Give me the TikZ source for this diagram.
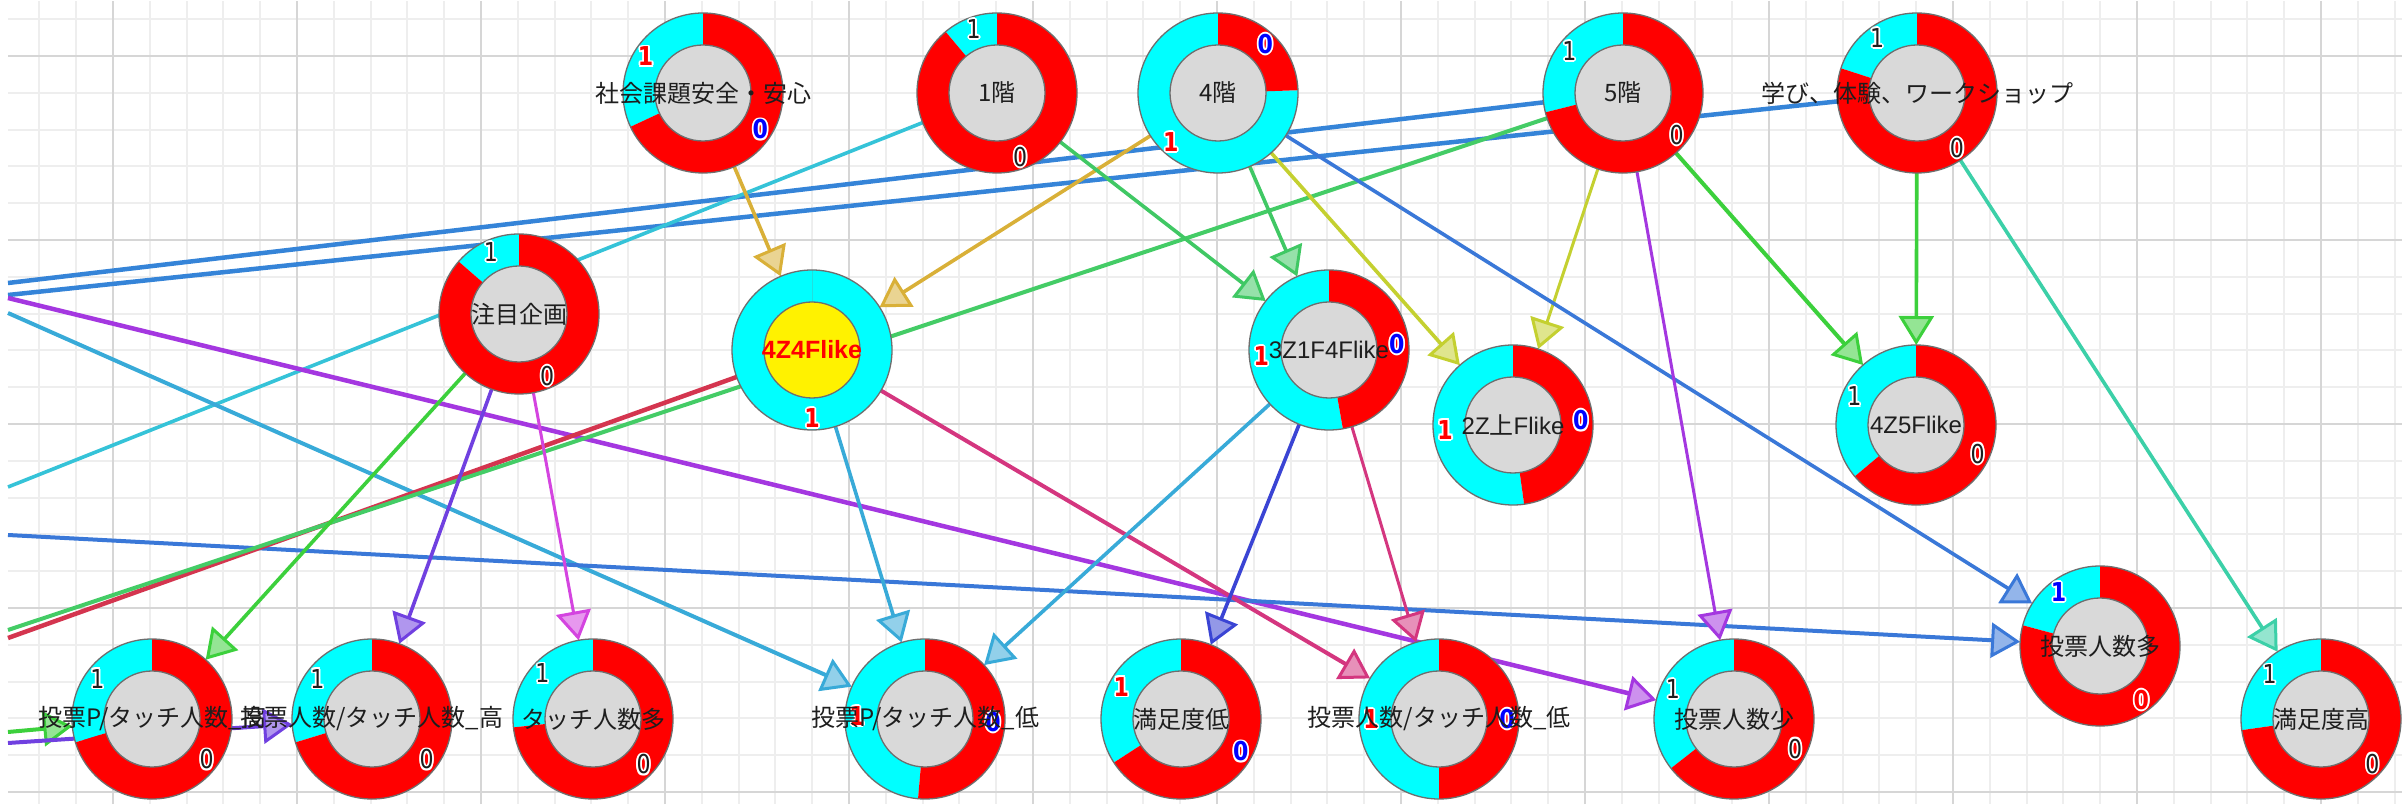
\documentclass[tikz,border=0pt]{standalone}
\usepackage{fontspec}
\setmainfont{Noto Sans CJK JP}
\newfontfamily\lat{Liberation Sans}
\newfontfamily\dvs[FakeStretch=0.85]{DejaVu Sans}
\usetikzlibrary{arrows.meta}
\definecolor{cyanc}{HTML}{00FFFF}
\definecolor{redc}{HTML}{FF0000}
\definecolor{rimc}{HTML}{6E6E6E}
\definecolor{innc}{HTML}{D9D9D9}
\definecolor{txtc}{HTML}{1E1E1E}
\definecolor{gridmin}{HTML}{EEEEEE}
\definecolor{gridmaj}{HTML}{D6D6D6}
\definecolor{cGold}{HTML}{D9B038}
\definecolor{cGrnA}{HTML}{40C864}
\definecolor{cYG}{HTML}{C4D030}
\definecolor{cBlue}{HTML}{3A78D8}
\definecolor{cGrnB}{HTML}{3CD03C}
\definecolor{cTeal}{HTML}{3CD0A8}
\definecolor{cPurp}{HTML}{A437E0}
\definecolor{cBlueB}{HTML}{3584D8}
\definecolor{cCyan}{HTML}{35C3D8}
\definecolor{cCB}{HTML}{38AAD8}
\definecolor{cRed}{HTML}{D4354F}
\definecolor{cGrnC}{HTML}{44CC66}
\definecolor{cPB}{HTML}{7040E0}
\definecolor{cMag}{HTML}{D444E0}
\definecolor{cPink}{HTML}{D4367F}
\definecolor{cNavy}{HTML}{3A44D4}
\definecolor{dblueC}{HTML}{0000FF}
\tikzset{
  hub/.style={circle, minimum size=160, inner sep=0, outer sep=0},
  arr/.style={-{Triangle[length=29pt,width=35pt,line width=3pt,fill=#1!55!white]}},
  ed/.style={draw=#1, line width=3.6, arr=#1},
  ln/.style={draw=#1, line width=3.6},
  rim/.style={draw=rimc, line width=1.3},
  lbl/.style={font=\fontsize{24}{24}\selectfont, text=txtc, inner sep=0},
  latlbl/.style={font=\lat\fontsize{24}{24}\selectfont, text=txtc, inner sep=0},
  dblack/.style={font=\dvs\fontsize{26}{26}\selectfont, text=txtc, inner sep=0},
  dred/.style={font=\dvs\bfseries\fontsize{26}{26}\selectfont, text=redc, inner sep=0},
  dblue/.style={font=\dvs\bfseries\fontsize{26}{26}\selectfont, text=dblueC, inner sep=0},
  minorline/.style={draw=gridmin, line width=2},
  majorline/.style={draw=gridmaj, line width=2.5},
}
\newcommand\ring[3]{%
  \fill[cyanc] (#1.center) -- ([shift={(90:80)}]#1.center) arc[start angle=90,end angle=#2,radius=80] -- cycle;
  \fill[redc] (#1.center) -- ([shift={(#2:80)}]#1.center) arc[start angle=#2,end angle=450,radius=80] -- cycle;
  \draw[rim] (#1.center) circle[radius=80];
  \filldraw[rim, fill=#3] (#1.center) circle[radius=48];
}
\newcommand\digit[4]{%
  \foreach \dx/\dy in {-1.8/0,1.8/0,0/-1.8,0/1.8,-1.3/-1.3,1.3/1.3,-1.3/1.3,1.3/-1.3}
    \node[#3, text=white, xshift=\dx, yshift=\dy] at ([shift={(#2:68)}]#1.center) {#4};
  \node[#3] at ([shift={(#2:68)}]#1.center) {#4};
}
\newcommand\ringlab[5]{% name, alpha, fill, style of 1, style of 0
  \ring{#1}{#2}{#3}%
  \pgfmathsetmacro\angA{(90+#2)/2}%
  \pgfmathsetmacro\angB{(#2+450)/2}%
  \digit{#1}{\angA}{#4}{1}%
  \digit{#1}{\angB}{#5}{0}%
}
\begin{document}
\begin{tikzpicture}[x=1pt,y=1pt]
\useasboundingbox (0,0) rectangle (2402,804);
\fill[white] (0,0) rectangle (2402,804);
% grid
\begin{scope}
\clip (8,0) rectangle (2402,802);
\foreach \i in {-3,...,62} \draw[minorline] ({113+36.8*\i},0) -- ({113+36.8*\i},804);
\foreach \i in {-2,...,21} \draw[minorline] (0,{748-36.8*\i}) -- (2402,{748-36.8*\i});
\foreach \i in {0,...,12} \draw[majorline] ({113+184*\i},0) -- ({113+184*\i},804);
\foreach \i in {0,...,4} \draw[majorline] (0,{748-184*\i}) -- (2402,{748-184*\i});
\end{scope}
% nodes (placeholders)
\node[hub] (soc) at (703,711) {};
\node[hub] (f1) at (997,711) {};
\node[hub] (f4) at (1218,711) {};
\node[hub] (f5) at (1623,711) {};
\node[hub] (mn) at (1917,711) {};
\node[hub] (ch) at (519,490) {};
\node[hub] (z44) at (812,454) {};
\node[hub] (z31) at (1329,454) {};
\node[hub] (z2) at (1513,379) {};
\node[hub] (z45) at (1916,379) {};
\node[hub] (b1) at (152,85) {};
\node[hub] (b2) at (372,85) {};
\node[hub] (b3) at (593,85) {};
\node[hub] (b4) at (925,85) {};
\node[hub] (b5) at (1181,85) {};
\node[hub] (b6) at (1439,85) {};
\node[hub] (b7) at (1734,85) {};
\node[hub] (b8) at (2100,158) {};
\node[hub] (b9) at (2321,85) {};
% off-picture ends
\coordinate (L5) at (8,521);
\coordinate (Lm) at (8,509);
\coordinate (L1) at (8,317);
\coordinate (Lp) at (8,506);
\coordinate (Lc) at (8,491);
\coordinate (Lb) at (8,269);
\coordinate (Lr) at (8,166);
\coordinate (Lg) at (8,174);
\coordinate (Lg2) at (8,72);
\coordinate (Lpu) at (8,61);
% edges
\draw[ln=cBlueB, line width=4.5] (f5) -- (L5);
\draw[ln=cBlueB, line width=4.5] (mn) -- (Lm);
\draw[ln=cCyan] (f1) -- (L1);
\draw[ed=cPurp, line width=4.5] (Lp) -- (b7);
\draw[ed=cCB, line width=4] (Lc) -- (b4);
\draw[ed=cBlue, line width=4] (Lb) -- (b8);
\draw[ln=cRed, line width=4.5] (z44) -- (Lr);
\draw[ln=cGrnC, line width=4] (f5) -- (Lg);
\draw[ed=cGrnB, line width=4] (Lg2) -- (b1);
\draw[ed=cPB, line width=4] (Lpu) -- (b2);
\draw[ed=cGold] (soc) -- (z44);
\draw[ed=cGold] (f4) -- (z44);
\draw[ed=cGrnA] (f1) -- (z31);
\draw[ed=cGrnA] (f4) -- (z31);
\draw[ed=cYG] (f4) -- (z2);
\draw[ed=cYG, line width=3] (f5) -- (z2);
\draw[ed=cBlue] (f4) -- (b8);
\draw[ed=cGrnB, line width=4] (f5) -- (z45);
\draw[ed=cGrnB] (mn) -- (z45);
\draw[ed=cTeal] (mn) -- (b9);
\draw[ed=cPurp, line width=3] (f5) -- (b7);
\draw[ed=cGrnB] (ch) -- (b1);
\draw[ed=cPB] (ch) -- (b2);
\draw[ed=cMag, line width=3] (ch) -- (b3);
\draw[ed=cCB] (z44) -- (b4);
\draw[ed=cPink, line width=4] (z44) -- (b6);
\draw[ed=cCB] (z31) -- (b4);
\draw[ed=cNavy] (z31) -- (b5);
\draw[ed=cPink, line width=3] (z31) -- (b6);
% rings
\ringlab{soc}{205}{innc}{dred}{dblue}
\ringlab{f1}{130}{innc}{dblack}{dblack}
\ringlab{f4}{362}{innc}{dred}{dblue}
\ringlab{f5}{194}{innc}{dblack}{dblack}
\ringlab{mn}{162}{innc}{dblack}{dblack}
\ringlab{ch}{139}{innc}{dblack}{dblack}
\ring{z44}{450}{yellow}
\ringlab{z31}{280}{innc}{dred}{dblue}
\ringlab{z2}{278}{innc}{dred}{dblue}
\ringlab{z45}{220}{innc}{dblack}{dblack}
\ringlab{b1}{197}{innc}{dblack}{dblack}
\ringlab{b2}{197}{innc}{dblack}{dblack}
\ringlab{b3}{186}{innc}{dblack}{dblack}
\ringlab{b4}{265}{innc}{dred}{dblue}
\ringlab{b5}{213}{innc}{dred}{dblue}
\ringlab{b6}{270}{innc}{dred}{dblue}
\ringlab{b7}{218}{innc}{dblack}{dblack}
\ringlab{b8}{165}{innc}{dblue}{dred}
\ringlab{b9}{188}{innc}{dblack}{dblack}
% texts
\node[lbl] at (soc) {社会課題安全・安心};
\node[lbl] at (f1) {1階};
\node[lbl] at (f4) {4階};
\node[lbl] at (f5) {5階};
\node[lbl] at (mn) {学び、体験、ワークショップ};
\node[lbl] at (ch) {注目企画};
\node[latlbl, font=\lat\bfseries\fontsize{25}{25}\selectfont, text=redc] at (z44) {4Z4Flike};
\node[latlbl] at (z31) {3Z1F4Flike};
\node[lbl] at (z2) {{\lat 2Z}上{\lat Flike}};
\node[latlbl] at (z45) {4Z5Flike};
\node[lbl] at (b1) {投票P/タッチ人数\_高};
\node[lbl] at (b2) {投票人数/タッチ人数\_高};
\node[lbl] at (b3) {タッチ人数多};
\node[lbl] at (b4) {投票P/タッチ人数\_低};
\node[lbl] at (b5) {満足度低};
\node[lbl] at (b6) {投票人数/タッチ人数\_低};
\node[lbl] at (b7) {投票人数少};
\node[lbl] at (b8) {投票人数多};
\node[lbl] at (b9) {満足度高};
% digit of the all-cyan ring
\digit{z44}{270}{dred}{1}
\end{tikzpicture}
\end{document}
